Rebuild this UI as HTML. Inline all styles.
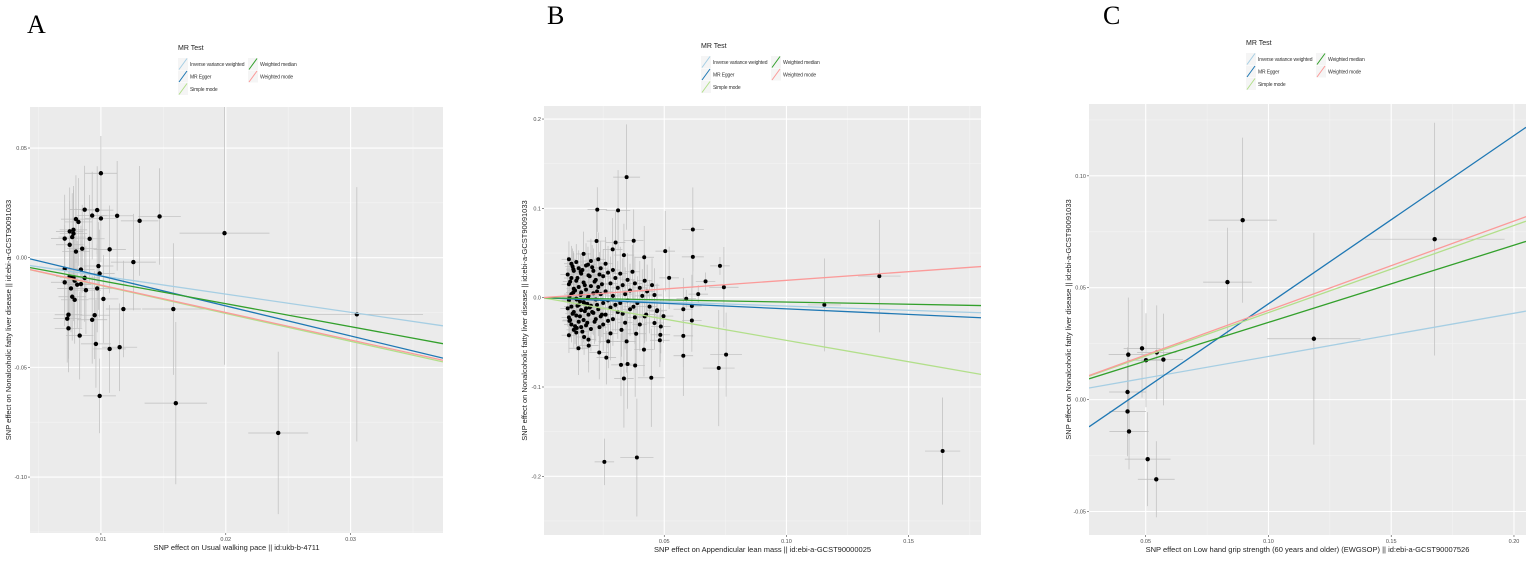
<!DOCTYPE html>
<html><head><meta charset="utf-8"><style>
html,body{margin:0;padding:0;background:#fff;overflow:hidden;width:1535px;height:565px;}
svg{display:block;overflow:hidden;}
svg text{font-family:"Liberation Sans",Arial,sans-serif;}
svg text.serif{font-family:"Liberation Serif",serif;}
</style></head><body>
<svg id="fig" width="1535" height="565" viewBox="0 0 1535 565" xmlns="http://www.w3.org/2000/svg">
<rect width="1535" height="565" fill="#fff"/>
</svg>
<script>
// ---------- Panel A data ----------
const aX=[.0100,.0087,.0097,.0093,.0100,.0113,.0131,.0147,.0080,.0082,.0075,.0078,.0078,.0077,.0071,.0091,.0075,.0080,.0085,.0107,.0199,.0126,.0071,.0084,.0098,.0099,.0075,.0078,.0087,.0071,.0079,.0081,.0084,.0076,.0088,.0097,.0077,.0079,.0102,.0118,.0158,.0074,.0073,.0095,.0093,.0074,.0305,.0083,.0096,.0107,.0115,.0099,.0160,.0242];
const aY=[.0385,.0219,.0217,.0192,.0179,.0191,.0168,.0188,.0176,.0163,.0120,.0127,.0110,.0094,.0087,.0086,.0059,.0028,.0041,.0038,.0112,-.0020,-.0051,-.0054,-.0038,-.0072,-.0086,-.0089,-.0092,-.0112,-.0105,-.0123,-.0120,-.0140,-.0148,-.0140,-.0178,-.0192,-.0188,-.0234,-.0234,-.0260,-.0278,-.0262,-.0283,-.0322,-.0258,-.0355,-.0393,-.0416,-.0408,-.0630,-.0663,-.0799];
const aXse=[.0013,.0012,.0013,.0012,.0013,.0013,.0015,.0017,.0012,.0011,.0011,.0011,.0011,.0011,.0011,.0012,.0011,.0011,.0012,.0013,.0036,.0018,.0011,.0011,.0012,.0012,.0011,.0011,.0012,.0011,.0011,.0011,.0011,.0011,.0012,.0012,.0011,.0011,.0012,.0014,.0025,.0011,.0011,.0012,.0012,.0011,.0053,.0011,.0012,.0013,.0014,.0013,.0025,.0024];
const aYse=[.017,.02,.02,.02,.02,.025,.025,.022,.02,.02,.02,.02,.02,.02,.02,.02,.02,.02,.02,.02,.06,.022,.02,.02,.02,.02,.02,.02,.02,.02,.02,.02,.02,.02,.02,.02,.02,.02,.02,.022,.03,.02,.02,.02,.02,.02,.058,.02,.02,.02,.02,.017,.037,.037];
const aXTicks=[0.01,0.02,0.03];
const aXTickLabels=["0.01","0.02","0.03"];
const aYTicks=[0.05,0,-0.05,-0.10];
const aYTickLabels=["0.05","0.00","-0.05","-0.10"];
const aSlopes=[-0.83,-1.369,-1.27,-1.048,-1.25];
const aIntercepts=[0,0.0054,0,0,0];

// ---------- Panel B data ----------
const bX=[.0346,.0226,.0311,.0223,.0301,.0375,.0289,.0335,.0418,.0504,.0520,.0617,.0617,.0728,.0744,.0669,.0639,.0590,.0578,.0613,.0613,.0578,.0578,.0753,.0723,.1155,.1380,.1639,.0255,.0388,.0335,.0447,.0323,.0350,.0381,.0263,.0234,.0417,.0191,.0149,.0271,.0346,.0482,.0484,.0385,.0325,.0486,.0460,.0497,.0471,.0426,.0374,
.011,.012,.013,.012,.011,.013,.012,.011,.012,.013,.011,.012,.013,.011,.014,.015,.016,.014,.015,.016,.014,.015,.016,.014,.015,.016,.014,.017,.018,.019,.017,.018,.019,.017,.018,.019,.017,.018,.019,.020,.021,.022,.020,.021,.022,.020,.021,.022,.020,.023,.024,.025,.023,.024,.025,.023,.024,.025,.026,.027,.028,.026,.027,.028,.026,.027,.028,.029,.030,.031,.029,.030,.031,.029,.032,.033,.034,.032,.033,.034,.035,.036,.035,.036,.037,.038,.039,.038,.040,.041,.040,.042,.043,.044,.045,.046,.047,.042,
.0105,.0115,.0125,.0135,.0145,.0155,.0165,.0175,.0185,.0195,.0105,.0115,.0125,.0135,.0145,.0155,.0165,.0175,.0185,.0195,.0205,.0215,.0225,.0235,.0245,.0205,.0215,.0225,.0235,.0245,.0112,.0128,.0142,.0158,.0172,.0188,.0112,.0128,.0142,.0158,.0172,.0188];
const bY=[.135,.0986,.0978,.0634,.0618,.0638,.0541,.0477,.0453,.0521,.0222,.0764,.0457,.0356,.0117,.0182,.0040,-.0012,-.0129,-.0093,-.0255,-.0428,-.0650,-.0638,-.0788,-.0081,.0242,-.1717,-.1838,-.1790,-.0905,-.0897,-.0752,-.0743,-.0760,-.0671,-.0614,-.0582,-.0537,-.0566,-.0489,-.0489,-.0477,-.0416,-.0404,-.0360,-.0323,-.0283,-.0206,-.0141,-.0190,-.0101,
.043,.038,.030,.022,.015,.010,.004,-.003,-.010,-.016,-.022,-.030,-.036,-.042,.040,.033,.027,.019,.012,.006,-.001,-.008,-.014,-.020,-.027,-.033,-.039,.049,.036,.025,.017,.009,.002,-.005,-.012,-.019,-.025,-.031,-.047,.041,.030,.020,.013,.005,-.002,-.009,-.017,-.024,-.035,.043,.033,.024,.012,.004,-.006,-.013,-.021,-.030,.038,.028,.016,.007,-.003,-.011,-.019,-.026,-.040,.031,.022,.011,.002,-.008,-.016,-.024,.027,.014,.004,-.006,-.018,-.028,.020,.008,-.003,-.013,.029,.016,-.006,-.022,.011,.002,-.030,.019,.007,-.010,.014,.003,-.015,-.021,
.026,.018,.035,.008,.022,-.004,.031,.014,-.007,.024,-.012,-.025,-.018,-.032,-.009,-.021,-.038,-.015,-.028,-.011,.034,.018,.007,.026,.015,-.016,-.027,-.008,-.033,-.019,.001,.006,-.002,.003,-.006,.000,-.026,.032,-.034,.029,-.044,.037];
const bXse=[.0055,.004,.005,.004,.004,.004,.004,.004,.004,.004,.004,.0045,.0045,.004,.006,.004,.004,.004,.004,.004,.004,.004,.004,.0065,.0065,.0068,.0087,.0072,.004,.0068,.004,.0055,.004,.004,.004,.004,.004,.004,.004,.004,.004,.004,.004,.004,.004,.004,.004,.004,.004,.004,.004,.004,
.003,.003,.003,.003,.003,.003,.003,.003,.003,.003,.003,.003,.003,.003,.003,.003,.003,.003,.003,.003,.003,.003,.003,.003,.003,.003,.003,.003,.003,.003,.003,.003,.003,.003,.003,.003,.003,.003,.003,.003,.003,.003,.003,.003,.003,.003,.003,.003,.003,.003,.003,.003,.003,.003,.003,.003,.003,.003,.003,.003,.003,.003,.003,.003,.003,.003,.003,.003,.003,.003,.003,.003,.003,.003,.003,.003,.003,.003,.003,.003,.003,.003,.003,.003,.003,.003,.003,.003,.003,.003,.003,.003,.003,.003,.003,.003,.003,.003,
.003,.003,.003,.003,.003,.003,.003,.003,.003,.003,.003,.003,.003,.003,.003,.003,.003,.003,.003,.003,.003,.003,.003,.003,.003,.003,.003,.003,.003,.003,.003,.003,.003,.003,.003,.003,.003,.003,.003,.003,.003,.003];
const bYse=[.059,.025,.045,.035,.035,.035,.035,.035,.035,.045,.035,.047,.035,.01,.045,.01,.01,.01,.035,.035,.035,.035,.045,.047,.065,.052,.063,.06,.026,.066,.055,.055,.035,.05,.035,.03,.03,.03,.03,.03,.03,.035,.03,.03,.035,.03,.03,.03,.03,.03,.03,.03,
.02,.02,.02,.02,.02,.02,.02,.02,.02,.02,.02,.02,.02,.02,.02,.02,.02,.02,.02,.02,.02,.02,.02,.02,.02,.02,.02,.025,.025,.025,.025,.025,.025,.025,.025,.025,.025,.025,.025,.025,.025,.025,.025,.025,.025,.025,.025,.025,.025,.03,.03,.03,.03,.03,.03,.03,.03,.03,.03,.03,.03,.03,.03,.03,.03,.03,.03,.03,.03,.03,.03,.03,.03,.03,.03,.03,.03,.03,.03,.03,.03,.03,.03,.03,.03,.03,.03,.03,.03,.03,.03,.03,.03,.03,.03,.03,.03,.03,
.02,.02,.02,.02,.02,.02,.02,.02,.02,.02,.02,.02,.02,.02,.02,.02,.02,.02,.02,.02,.025,.025,.025,.025,.025,.025,.025,.025,.025,.025,.02,.02,.02,.02,.02,.02,.02,.02,.02,.02,.02,.02];
const bXTicks=[0.05,0.10,0.15];
const bXTickLabels=["0.05","0.10","0.15"];
const bYTicks=[0.2,0.1,0,-0.1,-0.2];
const bYTickLabels=["0.2","0.1","0.0","-0.1","-0.2"];
const bSlopes=[-0.094,-0.125,-0.478,-0.049,0.194];
const bIntercepts=[0,0,0,0,0];

// ---------- Panel C data ----------
const cX=[.0895,.0833,.1185,.1677,.0429,.0485,.0501,.0545,.0572,.0426,.0426,.0432,.0508,.0543];
const cY=[.0802,.0525,.0272,.0717,.0201,.0229,.0176,.0211,.0179,.0034,-.0053,-.0142,-.0266,-.0356];
const cXse=[.0139,.0099,.019,.0285,.008,.0075,.0075,.008,.008,.0075,.0075,.008,.0093,.0075];
const cYse=[.0369,.0243,.0473,.052,.0255,.022,.021,.021,.0205,.02,.02,.017,.021,.017];
const cXTicks=[0.05,0.10,0.15,0.20];
const cXTickLabels=["0.05","0.10","0.15","0.20"];
const cYTicks=[0.10,0.05,0,-0.05];
const cYTickLabels=["0.10","0.05","0.00","-0.05"];
const cSlopes=[0.193,0.752,0.389,0.345,0.399];
const cIntercepts=[0,-0.0324,0,0,0];

const methodNames=["Inverse variance weighted","MR Egger","Simple mode","Weighted median","Weighted mode"];
const methodColors=["#a6cee3","#1f78b4","#b2df8a","#33a02c","#fb9a99"];
const methodKeys=["ivw","mr-egger","simple-mode","weighted-median","weighted-mode"];

const NS="http://www.w3.org/2000/svg";
const svg=document.getElementById('fig');
function mk(tag,attrs,parent){const e=document.createElementNS(NS,tag);for(const k in attrs)e.setAttribute(k,attrs[k]);(parent||svg).appendChild(e);return e;}

const panels=[
 {id:"a",letter:"A",lx:27,ly:33,px0:30,px1:443,py0:107,py1:533,xd:[0.00432,0.0374],yd:[0.0687,-0.1255],
  X:aX,Y:aY,Xse:aXse,Yse:aYse,xt:aXTicks,xl:aXTickLabels,yt:aYTicks,yl:aYTickLabels,sl:aSlopes,ic:aIntercepts,
  leg:[178,50],r:2.2,xtitle:"SNP effect on Usual walking pace || id:ukb-b-4711",ytx:11},
 {id:"b",letter:"B",lx:547,ly:24,px0:544,px1:981,py0:106,py1:535,xd:[0.0008,0.1796],yd:[0.2146,-0.2657],
  X:bX,Y:bY,Xse:bXse,Yse:bYse,xt:bXTicks,xl:bXTickLabels,yt:bYTicks,yl:bYTickLabels,sl:bSlopes,ic:bIntercepts,
  leg:[701,48],r:2,xtitle:"SNP effect on Appendicular lean mass || id:ebi-a-GCST90000025",ytx:527},
 {id:"c",letter:"C",lx:1103,ly:24,px0:1089,px1:1526,py0:104,py1:535,xd:[0.0269,0.2049],yd:[0.1321,-0.0605],
  X:cX,Y:cY,Xse:cXse,Yse:cYse,xt:cXTicks,xl:cXTickLabels,yt:cYTicks,yl:cYTickLabels,sl:cSlopes,ic:cIntercepts,
  leg:[1246,45],r:2.2,xtitle:"SNP effect on Low hand grip strength (60 years and older) (EWGSOP) || id:ebi-a-GCST90007526",ytx:1071}
];

panels.forEach(p=>{
 const sx=v=>p.px0+(v-p.xd[0])/(p.xd[1]-p.xd[0])*(p.px1-p.px0);
 const sy=v=>p.py0+(v-p.yd[0])/(p.yd[1]-p.yd[0])*(p.py1-p.py0);
 const g=mk('g',{});
 
 
 const L=mk('text',{x:p.lx,y:p.ly,'font-size':26,'class':'serif',fill:'#000'},g);
 L.textContent=p.letter;
 
 
 // legend
 const lg=mk('g',{},g);
 
 
 const lt=mk('text',{x:p.leg[0],y:p.leg[1],'font-size':7,fill:'#222'},lg);
 lt.textContent="MR Test";
 
 
 const pos=[[0,0],[0,1],[0,2],[1,0],[1,1]];
 methodNames.forEach((m,i)=>{
  const kx=p.leg[0]+pos[i][0]*70, ky=p.leg[1]+8+pos[i][1]*12.5;
  const e=mk('g',{},lg);
  
  
  mk('rect',{x:kx,y:ky,width:10,height:12,fill:'#f5f5f5'},e);
  mk('line',{x1:kx+1,y1:ky+11.5,x2:kx+9,y2:ky+0.5,stroke:methodColors[i],'stroke-width':1},e);
  const t=mk('text',{x:kx+12,y:ky+8,'font-size':5,'letter-spacing':'-0.15',fill:'#333'},e);
  t.textContent=m;
 });
 // panel background
 const bg=mk('rect',{x:p.px0,y:p.py0,width:p.px1-p.px0,height:p.py1-p.py0,fill:'#ebebeb'},g);
 
 
 const clipId='clip'+p.id;
 const cp=mk('clipPath',{id:clipId},g);
 mk('rect',{x:p.px0,y:p.py0,width:p.px1-p.px0,height:p.py1-p.py0},cp);
 const inner=mk('g',{'clip-path':'url(#'+clipId+')'},g);
 // minor grid
 const dx=p.xt[1]-p.xt[0], dy=p.yt[0]-p.yt[1];
 for(let v=p.xt[0]-dx*3.5;v<p.xd[1]+dx;v+=dx){const X=sx(v);mk('line',{x1:X,y1:p.py0,x2:X,y2:p.py1,stroke:'#f4f4f4','stroke-width':0.6},inner);}
 for(let v=p.yt[0]+dy*2.5;v>p.yd[1]-dy;v-=dy){const Y=sy(v);mk('line',{x1:p.px0,y1:Y,x2:p.px1,y2:Y,stroke:'#f4f4f4','stroke-width':0.6},inner);}
 // major grid + ticks
 p.xt.forEach((v,i)=>{const X=sx(v);
  mk('line',{x1:X,y1:p.py0,x2:X,y2:p.py1,stroke:'#fff','stroke-width':1.1},inner);
  mk('line',{x1:X,y1:p.py1,x2:X,y2:p.py1+2,stroke:'#444','stroke-width':0.6},g);
  const t=mk('text',{x:X,y:p.py1+8,'font-size':5.5,fill:'#4d4d4d','text-anchor':'middle'},g);
  t.textContent=p.xl[i];
  
  
 });
 p.yt.forEach((v,i)=>{const Y=sy(v);
  mk('line',{x1:p.px0,y1:Y,x2:p.px1,y2:Y,stroke:'#fff','stroke-width':1.1},inner);
  mk('line',{x1:p.px0-2,y1:Y,x2:p.px0,y2:Y,stroke:'#444','stroke-width':0.6},g);
  const t=mk('text',{x:p.px0-3,y:Y+2,'font-size':5.5,fill:'#4d4d4d','text-anchor':'end'},g);
  t.textContent=p.yl[i];
  
  
 });
 // error bars
 const eg=mk('g',{},inner);
 
 
 p.X.forEach((x,i)=>{const y=p.Y[i];
  mk('line',{x1:sx(x-p.Xse[i]),y1:sy(y),x2:sx(x+p.Xse[i]),y2:sy(y),stroke:'#bdbdbd','stroke-width':0.7},eg);
  mk('line',{x1:sx(x),y1:sy(y-p.Yse[i]),x2:sx(x),y2:sy(y+p.Yse[i]),stroke:'#bdbdbd','stroke-width':0.7},eg);
 });
 // points
 const pg=mk('g',{},inner);
 
 
 p.X.forEach((x,i)=>{
  const c=mk('circle',{cx:sx(x),cy:sy(p.Y[i]),r:p.r,fill:'#000'},pg);
  
  
 });
 // regression lines
 p.sl.forEach((s,i)=>{
  const x0=p.xd[0],x1=p.xd[1];
  const ln=mk('line',{x1:sx(x0),y1:sy(p.ic[i]+s*x0),x2:sx(x1),y2:sy(p.ic[i]+s*x1),stroke:methodColors[i],'stroke-width':1.3},inner);
  
  
 });
 // axis titles
 const xt=mk('text',{x:(p.px0+p.px1)/2,y:p.py1+17,'font-size':7.5,fill:'#222','text-anchor':'middle'},g);
 xt.textContent=p.xtitle;
 
 
 const cy=(p.py0+p.py1)/2;
 const yt=mk('text',{x:p.ytx,y:cy,'font-size':7.5,fill:'#222','text-anchor':'middle',transform:'rotate(-90 '+p.ytx+' '+cy+')'},g);
 yt.textContent="SNP effect on Nonalcoholic fatty liver disease || id:ebi-a-GCST90091033";
 
 
});
</script>
</body></html>
